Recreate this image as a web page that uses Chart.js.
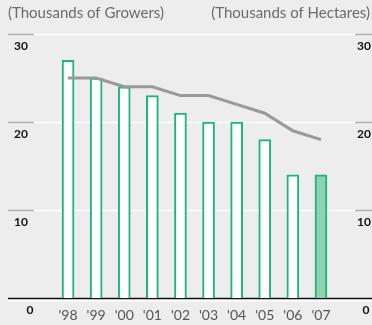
<!DOCTYPE html>
<html>
<head>
<meta charset="utf-8">
<script src="https://cdn.jsdelivr.net/npm/chart.js@4"></script>
<style>
  html, body { margin: 0; padding: 0; background: #ededed; }
  #wrap { width: 372px; height: 325px; position: relative; }
</style>
</head>
<body>
<div id="wrap"><canvas id="myChart" width="372" height="325"></canvas></div>
<script>
// years along the bottom
const years = ["'98", "'99", "'00", "'01", "'02", "'03", "'04", "'05", "'06", "'07"];
// growers (bars) and hectares (line), in thousands
const growers = [27, 25, 24, 23, 21, 20, 20, 18, 14, 14];
const hectares = [25, 25, 24, 24, 23, 23, 22, 21, 19, 18];
const yTicks = [0, 10, 20, 30];

const green = '#1cb57b';
const barFill = years.map((y, i) => i === years.length - 1 ? '#8fd3b1' : '#ffffff');

const ctx = document.getElementById('myChart').getContext('2d');

// gridlines, side labels and the two headings
const frame = {
    id: 'frame',
    beforeDatasetsDraw(chart) {
        const c = chart.ctx;
        const y = chart.scales.y;
        const w = chart.width;
        c.save();
        yTicks.forEach(v => {
            const py = Math.round(y.getPixelForValue(v)) + 0.5;
            if (v === 0) {
                c.strokeStyle = '#ffffff';
                c.lineWidth = 2;
                c.beginPath(); c.moveTo(8, py + 2); c.lineTo(w, py + 2); c.stroke();
                c.strokeStyle = '#111111';
                c.lineWidth = 1.5;
                c.beginPath(); c.moveTo(8, py); c.lineTo(w, py); c.stroke();
            } else {
                c.lineWidth = 1.5;
                c.strokeStyle = '#ffffff';
                c.beginPath(); c.moveTo(34, py); c.lineTo(355, py); c.stroke();
                c.strokeStyle = '#b0b0b0';
                c.beginPath(); c.moveTo(8, py); c.lineTo(34, py); c.stroke();
                c.beginPath(); c.moveTo(355, py); c.lineTo(w, py); c.stroke();
            }
            c.fillStyle = '#111111';
            c.font = 'bold 12px Lato';
            c.textBaseline = 'middle';
            c.textAlign = 'center';
            c.fillText(String(v), v === 0 ? 30 : 21, py + 12);
            c.fillText(String(v), v === 0 ? 366 : 364, py + 12);
        });
        c.fillStyle = '#6b6b6b';
        c.font = '15px Lato';
        c.textBaseline = 'middle';
        c.textAlign = 'left';
        c.fillText('(Thousands of Growers)', 8, 13);
        c.textAlign = 'right';
        c.fillText('(Thousands of Hectares)', 370, 13);
        c.restore();
    }
};

const chart = new Chart(ctx, {
    type: 'bar',
    data: {
        labels: years,
        datasets: [{
            type: 'line',
            label: 'Hectares',
            data: hectares,
            borderColor: '#999999',
            borderWidth: 3,
            pointRadius: 0,
            tension: 0,
            order: 0
        }, {
            label: 'Growers',
            data: growers,
            backgroundColor: barFill,
            borderColor: green,
            borderWidth: 2,
            borderSkipped: 'bottom',
            barThickness: 12,
            order: 1
        }]
    },
    options: {
        responsive: false,
        animation: false,
        layout: { padding: { top: 34, left: 54, right: 37, bottom: 0 } },
        plugins: { legend: { display: false }, tooltip: { enabled: false } },
        scales: {
            x: {
                grid: { display: false },
                border: { display: false },
                ticks: { color: '#555555', font: { family: 'Lato', size: 14 }, padding: 1 },
                afterFit(scale) { scale.height = 27; }
            },
            y: {
                display: false,
                min: 0,
                max: 30
            }
        }
    },
    plugins: [frame]
});
</script>
</body>
</html>
